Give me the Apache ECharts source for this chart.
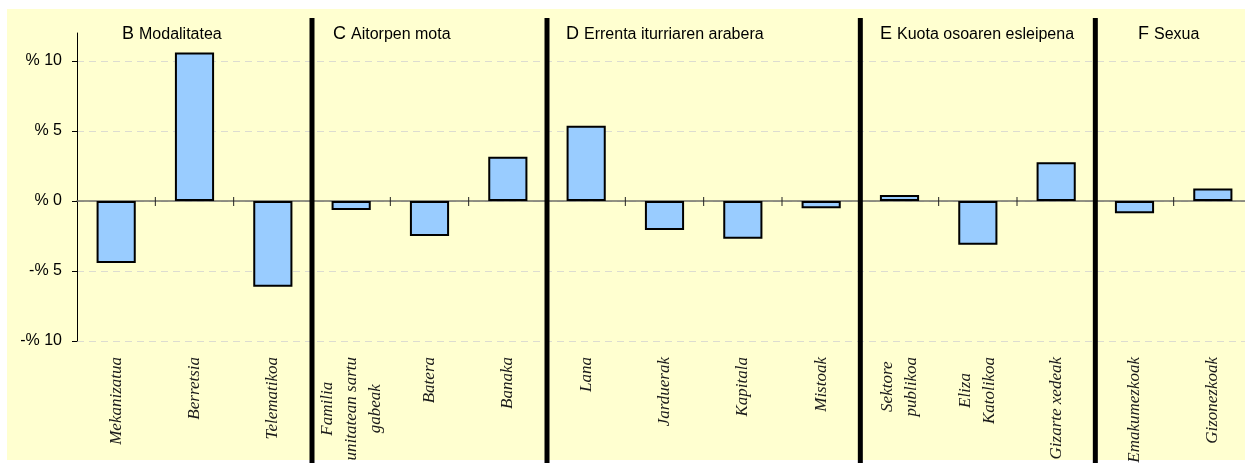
<!DOCTYPE html>
<html><head><meta charset="utf-8">
<script src="https://cdn.jsdelivr.net/npm/echarts@6/dist/echarts.min.js"></script>
<style>
html,body{margin:0;padding:0;background:#fff;overflow:hidden;width:1245px;height:466px;}
#bg{position:absolute;left:7px;top:9px;width:1238px;height:451px;background:#FFFFD0;}
#chart{position:absolute;left:0;top:0;width:1260px;height:466px;}
</style></head><body><div id="bg"></div><div id="chart"></div>
<script>
const categories = ['Mekanizatua','Berretsia','Telematikoa',
  'Familia\nunitatean sartu\ngabeak','Batera','Banaka',
  'Lana','Jarduerak','Kapitala','Mistoak',
  'Sektore\npublikoa','Eliza\nKatolikoa','Gizarte xedeak',
  'Emakumezkoak','Gizonezkoak'];
const values = [-4.43, 10.6, -6.12, -0.64, -2.5, 3.16, 5.38, -2.07, -2.69, -0.52, 0.43, -3.12, 2.76, -0.87, 0.9];
const sectionLetters = ['B','C','D','E','F'];
const sectionNames = ['Modalitatea','Aitorpen mota','Errenta iturriaren arabera','Kuota osoaren esleipena','Sexua'];
const sectionSizes = [3,3,4,3,2];
const yTicks = [-10,-5,0,5,10];
const yTickLabels = ['-% 10','-% 5','% 0','% 5','% 10'];

// layout only
const titleLefts = [122, 333, 566, 880, 1138];

const separators = [];
let acc = 0;
for (let i = 0; i < sectionSizes.length - 1; i++) { acc += sectionSizes[i]; separators.push(acc - 0.5); }
const boundaries = categories.slice(1).map((c, i) => i + 0.5);

const serif = '"Liberation Serif", "DejaVu Serif", serif';
const sans = '"Liberation Sans", Arial, sans-serif';

const chart = echarts.init(document.getElementById('chart'), null, {renderer: 'canvas'});
const GL = 77, GW = 1175;
const option = {
  animation: false,
  backgroundColor: 'transparent',
  title: sectionLetters.map((l, i) => ({
    text: '{l|' + l + '} {n|' + sectionNames[i] + '}',
    left: titleLefts[i], top: 25, padding: 0,
    textStyle: { fontWeight: 'normal', rich: {
      l: {fontFamily: sans, fontSize: 18, fontWeight: 'normal', color: '#000', verticalAlign: 'bottom'},
      n: {fontFamily: sans, fontSize: 16, fontWeight: 'normal', color: '#000', verticalAlign: 'bottom'}
    }}
  })),
  grid: [
    {left: GL, width: GW, top: 33, height: 308, containLabel: false},
    {left: GL, width: GW, top: 18, height: 445, containLabel: false}
  ],
  xAxis: [
    {type: 'category', data: categories, gridIndex: 0, position: 'bottom',
     axisLine: {show: false, onZero: false}, axisTick: {show: false},
     axisLabel: {interval: 0, rotate: 90, margin: 16, color: '#1a1a1a',
       formatter: v => v.split('\n').map(s => '{c|' + s + '}').join('\n'),
       rich: {c: {align: 'center', lineHeight: 24, fontFamily: serif, fontStyle: 'italic', fontSize: 17, color: '#1a1a1a'}}}},
    {type: 'category', data: categories, gridIndex: 0, position: 'top',
     axisLine: {show: true, onZero: true, lineStyle: {color: '#6f6f68', width: 1.5}},
     axisTick: {show: false}, axisLabel: {show: false}},
    {type: 'value', gridIndex: 1, min: -0.5, max: categories.length - 0.5, show: false},
    {type: 'value', gridIndex: 0, min: -0.5, max: categories.length - 0.5, show: false}
  ],
  yAxis: [
    {type: 'value', gridIndex: 0, min: -10, max: 12, interval: 5,
     axisLine: {show: true, onZero: false, lineStyle: {color: '#000', width: 1}},
     axisTick: {show: true, length: 5, customValues: yTicks, lineStyle: {color: '#000'}},
     axisLabel: {customValues: yTicks, margin: 15, fontFamily: sans, fontSize: 16, color: '#000',
       formatter: v => yTickLabels[yTicks.indexOf(v)]},
     splitLine: {show: true, lineStyle: {color: '#dcdcd0', type: [7, 5], width: 1}}},
    {type: 'value', gridIndex: 1, min: 0, max: 1, show: false}
  ],
  series: [
    {type: 'bar', xAxisIndex: 0, yAxisIndex: 0, data: values, barWidth: '50%',
     itemStyle: {color: '#99CCFF', borderColor: '#000', borderWidth: 2}, z: 3},
    {type: 'custom', xAxisIndex: 3, yAxisIndex: 0, data: boundaries.map(b => [b, 0]), z: 4, silent: true,
     renderItem: (params, api) => {
       const p = api.coord([api.value(0), api.value(1)]);
       return {type: 'line', shape: {x1: p[0], y1: p[1] - 4, x2: p[0], y2: p[1] + 5},
               style: {stroke: '#222', lineWidth: 1}};
     }},
    {type: 'custom', xAxisIndex: 2, yAxisIndex: 1, data: separators.map(s => [s]), z: 10, silent: true,
     renderItem: (params, api) => {
       const p0 = api.coord([api.value(0), 0]);
       const p1 = api.coord([api.value(0), 1]);
       return {type: 'line', shape: {x1: p0[0], y1: p0[1], x2: p1[0], y2: p1[1]},
               style: {stroke: '#000', lineWidth: 5}};
     }}
  ]
};
chart.setOption(option);
</script></body></html>
